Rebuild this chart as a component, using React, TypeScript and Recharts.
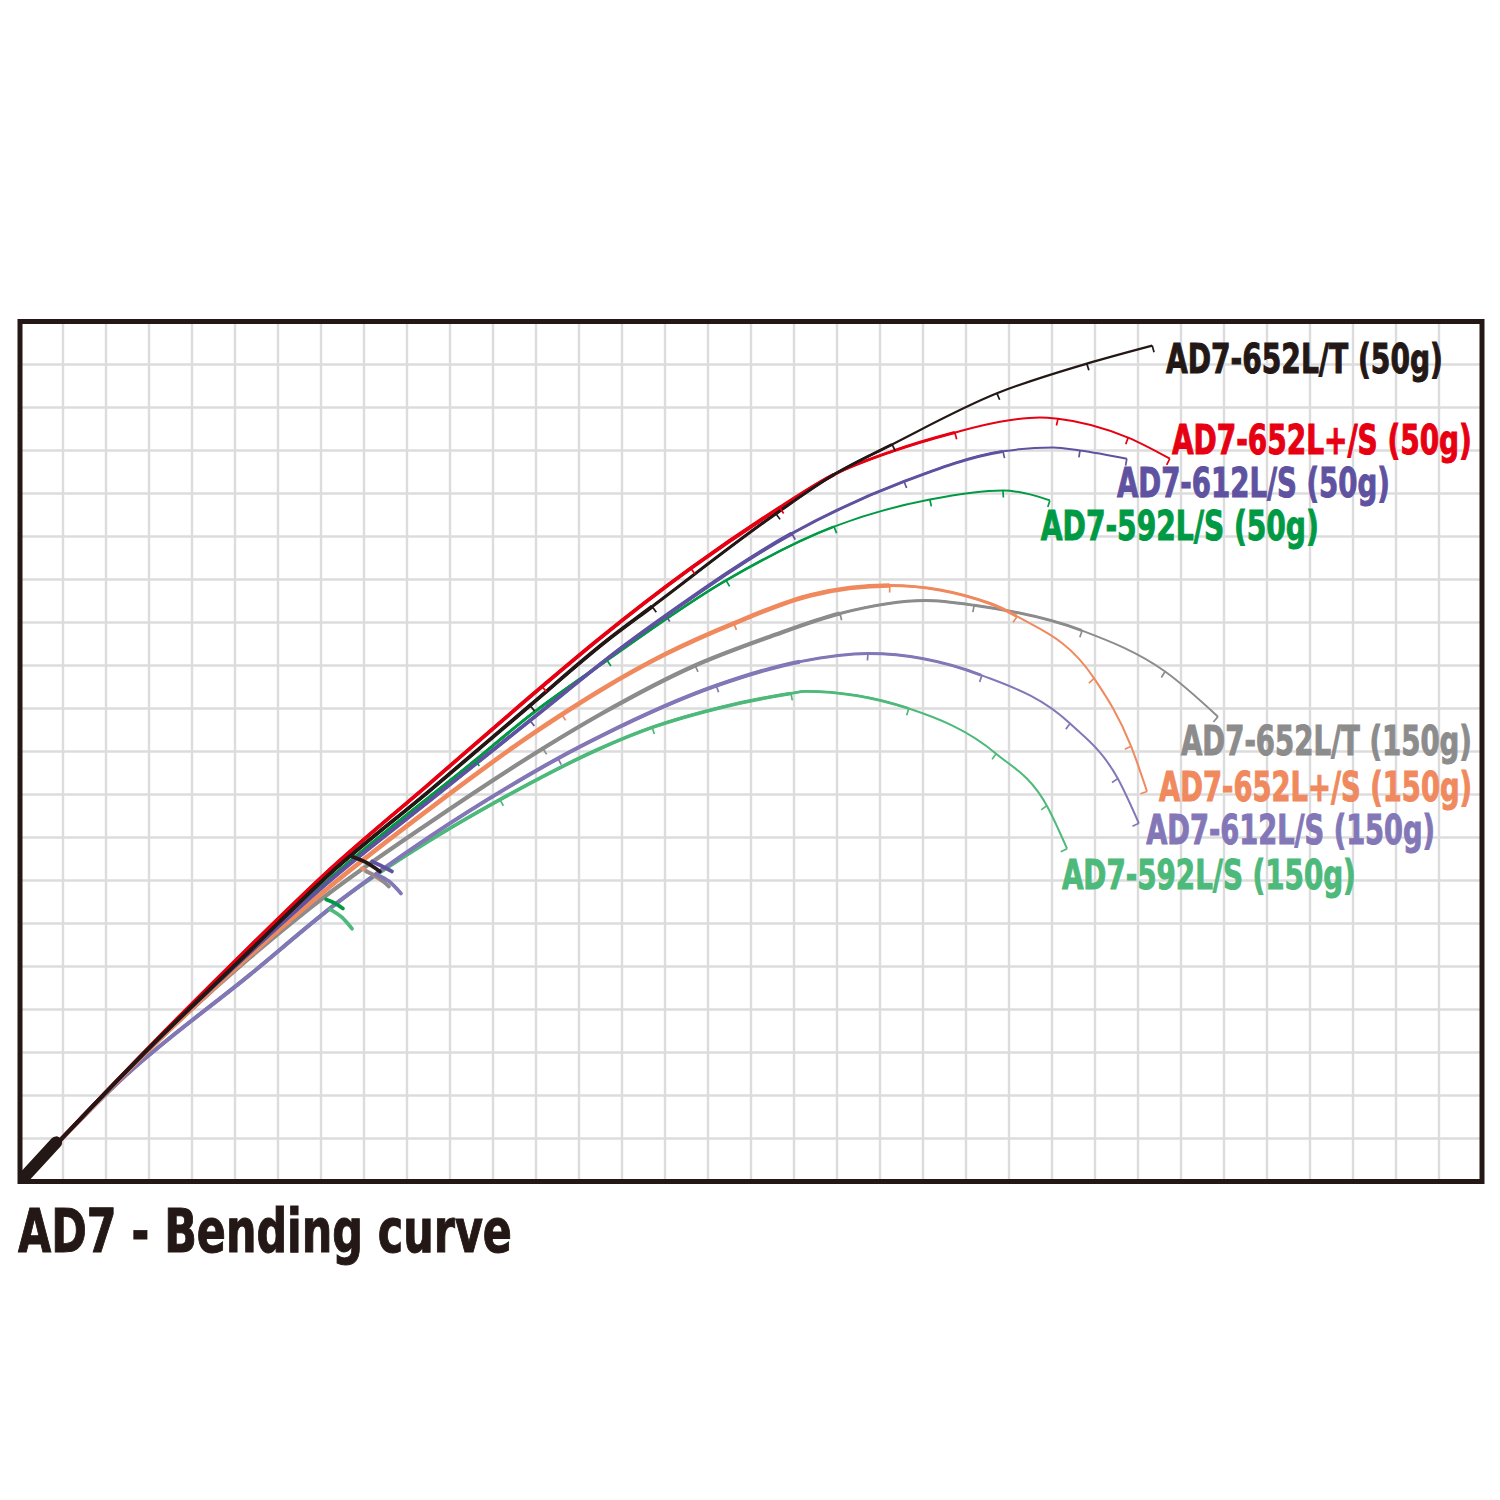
import React from 'react';
import { LineChart, Line, XAxis, YAxis, CartesianGrid, ReferenceArea, ReferenceDot, Label } from 'recharts';

// [x, y] in grid squares (34 x 20), third value 1 = a guide ring sits there
type Pt = number[];

const xTicks = Array.from({ length: 35 }, (_, i) => i);
const yTicks = Array.from({ length: 21 }, (_, i) => i);

const ad652T50: Pt[] = [
  [0.5, 0.5], [3.02, 3.12], [5.35, 5.37], [7.21, 7.16], [9.53, 9.09], [11.86, 11.07, 1], [13.65, 12.58],
  [14.7, 13.37, 1], [17.58, 15.53, 1], [18.93, 16.44], [20.28, 17.14, 1], [22.72, 18.33, 1], [24.81, 19.02, 1],
  [26.33, 19.44, 1],
];
const ad652LS50: Pt[] = [
  [0.5, 0.5], [3.02, 3.14], [5.35, 5.47], [7.21, 7.26], [9.53, 9.26], [12.14, 11.51, 1], [13.42, 12.58],
  [15.6, 14.26, 1], [17.67, 15.67, 1], [18.93, 16.44], [20.28, 16.98], [21.74, 17.42, 1], [22.79, 17.67],
  [23.72, 17.77], [24.14, 17.74, 1], [25.77, 17.3, 1], [26.74, 16.81, 1],
];
const ad612S50: Pt[] = [
  [0.5, 0.5], [3.02, 3.12], [5.35, 5.33], [7.21, 7.0], [9.53, 8.86], [11.86, 10.72, 1], [14.12, 12.51],
  [15.02, 13.16, 1], [17.95, 15.07, 1], [20.56, 16.28, 1], [22.86, 16.98, 1], [24.02, 17.07], [24.65, 17.0, 1],
  [25.74, 16.81, 1],
];
const ad592S50: Pt[] = [
  [0.5, 0.5], [3.02, 3.12], [5.35, 5.33], [7.21, 7.05], [10.58, 9.79, 1], [11.86, 10.84], [13.65, 12.12, 1],
  [16.42, 13.98, 1], [18.93, 15.23, 1], [21.16, 15.86, 1], [22.86, 16.07, 1], [23.49, 15.98], [23.95, 15.84, 1],
];
const ad652T150: Pt[] = [
  [0.5, 0.5], [3.02, 3.09], [5.35, 5.21], [7.21, 6.72], [9.53, 8.35], [12.16, 10.07, 1],
  [13.49, 10.86], [15.7, 12.0, 1], [17.44, 12.67], [19.07, 13.21, 1], [21.05, 13.51], [22.19, 13.4, 1],
  [24.7, 12.81, 1], [26.63, 11.86, 1], [27.86, 10.81, 1],
];
const ad652LS150: Pt[] = [
  [0.5, 0.5], [3.02, 3.09], [5.35, 5.26], [7.21, 6.86], [9.53, 8.67], [11.86, 10.37], [12.6, 10.86, 1],
  [13.49, 11.42], [15.0, 12.26], [16.6, 12.98, 1], [18.37, 13.63], [20.23, 13.86, 1], [22.56, 13.44],
  [23.19, 13.14, 1], [24.98, 11.7, 1], [25.84, 10.12, 1], [26.21, 9.07, 1],
];
const ad612S150: Pt[] = [
  [0.5, 0.5], [2.33, 2.35], [5.35, 4.81], [7.44, 6.53], [9.53, 8.02], [11.86, 9.47], [12.51, 9.84, 1],
  [13.49, 10.35], [16.19, 11.53, 1], [18.14, 12.09], [19.72, 12.28, 1], [22.37, 11.77, 1], [24.42, 10.65, 1],
  [25.53, 9.37, 1], [26.02, 8.33, 1],
];
const ad592S150: Pt[] = [
  [0.5, 0.5], [2.33, 2.35], [5.35, 4.81], [7.44, 6.53], [9.53, 7.93], [11.16, 8.88, 1], [11.86, 9.26],
  [13.49, 10.07], [14.7, 10.56, 1], [16.28, 11.02], [17.93, 11.35, 1], [18.26, 11.4], [20.67, 11.0, 1],
  [22.7, 9.95, 1], [23.88, 8.74, 1], [24.35, 7.74, 1],
];

// grip and the little joint hooks of the butt sections
const grip: Pt[] = [[0.05, 0.05], [0.84, 0.91]];
const jointBlack: Pt[] = [[7.72, 7.56], [8.05, 7.42], [8.37, 7.21]];
const jointPurple50: Pt[] = [[8.19, 7.44], [8.42, 7.33], [8.65, 7.21]];
const jointOrange: Pt[] = [[7.95, 7.28], [8.19, 7.14], [8.4, 7.0]];
const jointGrey: Pt[] = [[8.05, 7.21], [8.33, 7.07], [8.58, 6.86]];
const jointPurple150: Pt[] = [[8.28, 7.14], [8.58, 6.98], [8.86, 6.7]];
const jointGreen50: Pt[] = [[7.12, 6.56], [7.33, 6.47], [7.51, 6.35]];
const jointGreen150: Pt[] = [[7.21, 6.33], [7.49, 6.14], [7.72, 5.88]];

const INK = '#231815';
const FONT = "'Liberation Sans Narrow', 'DejaVu Sans Condensed', 'Roboto', sans-serif";
const CELL = 43; // px per grid square, only used to size the taper dashes

const toRows = (pts: Pt[]) =>
  pts.map((p, i) => {
    const a = pts[Math.max(0, i - 1)];
    const b = pts[Math.min(pts.length - 1, i + 1)];
    const dx = b[0] - a[0];
    const dy = b[1] - a[1];
    const len = Math.hypot(dx, dy) || 1;
    return { x: p[0], y: p[1], guide: p[2] === 1, tx: dx / len, ty: dy / len };
  });

// length of the blank up to point n, in px, so a heavier stroke can stop there
const dashTo = (pts: Pt[], n: number) => {
  let s = 0;
  for (let i = 1; i < Math.min(n, pts.length); i++) s += Math.hypot(pts[i][0] - pts[i - 1][0], pts[i][1] - pts[i - 1][1]);
  return `${(s * CELL).toFixed(1)} 9999`;
};

// drawn back to front; thick / mid = up to which point the heavier butt stroke runs
const rods = [
  { id: 'g150', pts: ad592S150, color: '#4db97a', thick: 11, mid: 13, w: [3.6, 2.8, 2] },
  { id: 'p150', pts: ad612S150, color: '#8377b7', thick: 10, mid: 12, w: [4, 3, 2] },
  { id: 't150', pts: ad652T150, color: '#8c8c8c', thick: 10, mid: 13, w: [4.2, 3, 2] },
  { id: 'o150', pts: ad652LS150, color: '#f0895d', thick: 12, mid: 14, w: [4.6, 3.2, 2] },
  { id: 'g50', pts: ad592S50, color: '#009a44', thick: 7, mid: 9, w: [3, 2.5, 2] },
  { id: 'p50', pts: ad612S50, color: '#5f52a0', thick: 9, mid: 11, w: [3.8, 3, 2] },
  { id: 'r50', pts: ad652LS50, color: '#e60012', thick: 10, mid: 12, w: [3.8, 3, 2] },
  { id: 'b50', pts: ad652T50, color: INK, thick: 8, mid: 11, w: [3.8, 3, 2.2] },
];

const joints = [
  { id: 'jg50', pts: jointGreen50, color: '#009a44' },
  { id: 'jg150', pts: jointGreen150, color: '#4db97a' },
  { id: 'jo', pts: jointOrange, color: '#f0895d' },
  { id: 'jt', pts: jointGrey, color: '#8c8c8c' },
  { id: 'jp150', pts: jointPurple150, color: '#8377b7' },
  { id: 'jp50', pts: jointPurple50, color: '#5f52a0' },
  { id: 'jb', pts: jointBlack, color: INK },
];

const labels = [
  { text: 'AD7-652L/T (50g)', color: INK, x: 26.65, y: 18.81, len: 277 },
  { text: 'AD7-652L+/S (50g)', color: '#e60012', x: 26.79, y: 16.93, len: 300 },
  { text: 'AD7-612L/S (50g)', color: '#5f52a0', x: 25.51, y: 15.91, len: 273 },
  { text: 'AD7-592L/S (50g)', color: '#009a44', x: 23.74, y: 14.93, len: 278 },
  { text: 'AD7-652L/T (150g)', color: '#8c8c8c', x: 27.0, y: 9.91, len: 291 },
  { text: 'AD7-652L+/S (150g)', color: '#f0895d', x: 26.49, y: 8.86, len: 313 },
  { text: 'AD7-612L/S (150g)', color: '#8377b7', x: 26.19, y: 7.84, len: 289 },
  { text: 'AD7-592L/S (150g)', color: '#4db97a', x: 24.23, y: 6.81, len: 294 },
];

// squeezes a bold face to the condensed width of the original lettering
const FitText = ({ x, y, width, size, fill, text }: any) => {
  const ref = React.useRef<SVGTextElement>(null);
  const [sx, setSx] = React.useState(0.82);
  React.useLayoutEffect(() => {
    const el = ref.current;
    if (!el) return;
    const w = el.getComputedTextLength();
    if (w > 0) setSx(width / w);
  }, [text, width, size]);
  return (
    <text ref={ref} transform={`translate(${x},${y}) scale(${sx},1)`} fill={fill} stroke={fill}
      strokeWidth={1} fontSize={size} fontWeight={700} fontFamily={FONT}>
      {text}
    </text>
  );
};

const guideDot = (color: string) => (props: any) => {
  const { cx, cy, payload, index } = props;
  if (!payload || !payload.guide || cx == null || cy == null) return <g key={`d-${index}`} />;
  const L = 7;
  // normal on the underside of the blank
  const nx = payload.ty;
  const ny = payload.tx;
  return (
    <line key={`d-${index}`} x1={cx} y1={cy} x2={cx + nx * L} y2={cy + ny * L}
      stroke={color} strokeWidth={1.7} />
  );
};

export default function App() {
  return (
    <div style={{ position: 'absolute', left: 0, top: 0, width: 1500, height: 1500, background: '#fff' }}>
      <LineChart width={1500} height={1500} margin={{ top: 321.5, right: 18, bottom: 318.5, left: 20 }}>
        <CartesianGrid stroke="#dcdcdc" strokeWidth={2.4}
          verticalCoordinatesGenerator={({ offset }: any) => xTicks.map((t) => offset.left + (t / 34) * offset.width)}
          horizontalCoordinatesGenerator={({ offset }: any) => yTicks.map((t) => offset.top + (t / 20) * offset.height)}
        />
        <XAxis dataKey="x" type="number" domain={[0, 34]} ticks={xTicks} allowDataOverflow
          tick={false} tickLine={false} axisLine={false} height={0} />
        <YAxis dataKey="y" type="number" domain={[0, 20]} ticks={yTicks} allowDataOverflow
          tick={false} tickLine={false} axisLine={false} width={0} />

        {rods.map((r) => {
          const rows = toRows(r.pts);
          return [
            <Line key={`${r.id}-a`} data={rows} dataKey="y" type="monotoneX" stroke={r.color}
              strokeWidth={r.w[0]} strokeDasharray={dashTo(r.pts, r.thick)} dot={false} activeDot={false}
              isAnimationActive={false} />,
            <Line key={`${r.id}-b`} data={rows} dataKey="y" type="monotoneX" stroke={r.color}
              strokeWidth={r.w[1]} strokeDasharray={dashTo(r.pts, r.mid)} dot={false} activeDot={false}
              isAnimationActive={false} />,
            <Line key={`${r.id}-c`} data={rows} dataKey="y" type="monotoneX" stroke={r.color}
              strokeWidth={r.w[2]} dot={guideDot(r.color)} activeDot={false} isAnimationActive={false} />,
          ];
        })}

        {joints.map((j) => (
          <Line key={j.id} data={toRows(j.pts)} dataKey="y" type="monotoneX" stroke={j.color}
            strokeWidth={3.8} strokeLinecap="round" dot={false} activeDot={false} isAnimationActive={false} />
        ))}

        <Line data={toRows(grip)} dataKey="y" type="linear" stroke={INK} strokeWidth={12}
          strokeLinecap="round" dot={false} activeDot={false} isAnimationActive={false} />

        {labels.map((l) => (
          <ReferenceDot key={l.text} x={l.x} y={l.y} r={0} fill="none" stroke="none" ifOverflow="visible">
            <Label
              content={(p: any) => (
                <FitText x={p.viewBox ? p.viewBox.x : 0} y={p.viewBox ? p.viewBox.y : 0} width={l.len}
                  size={41} fill={l.color} text={l.text} />
              )}
            />
          </ReferenceDot>
        ))}

        <ReferenceArea x1={0} x2={34} y1={0} y2={20} fill="none" fillOpacity={0} stroke={INK}
          strokeWidth={5} ifOverflow="visible" />
      </LineChart>

      <svg width={1500} height={1500} style={{ position: 'absolute', left: 0, top: 0, pointerEvents: 'none' }}>
        <FitText x={18} y={1252} width={494} size={60} fill={INK} text="AD7 - Bending curve" />
      </svg>
    </div>
  );
}
